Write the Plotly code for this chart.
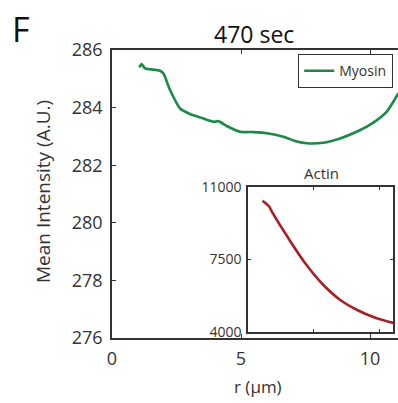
import plotly.graph_objects as go

# Main (Myosin) profile
myosin_r = [1.06, 1.15, 1.28, 1.47, 1.86, 1.99, 2.25, 2.64, 3.02, 3.41, 3.93, 4.12, 4.45,
            4.96, 5.48, 6.00, 6.64, 7.16, 7.55, 8.19, 8.84, 9.48, 10.13, 10.65, 11.10]
myosin_v = [285.40, 285.51, 285.36, 285.33, 285.28, 285.19, 284.61, 283.97, 283.78, 283.66,
            283.51, 283.53, 283.36, 283.16, 283.15, 283.11, 282.99, 282.82, 282.76, 282.78,
            282.93, 283.16, 283.48, 283.86, 284.50]

# Inset (Actin) profile
actin_r = [1.10, 1.62, 1.74, 3.15, 4.44, 5.72, 7.00, 8.28, 9.56, 11.10]
actin_v = [10340, 10049, 9890, 8441, 7234, 6269, 5545, 5062, 4710, 4420]

main_yticks = [276, 278, 280, 282, 284, 286]
main_xticks = [0, 5, 10]
inset_yticks = [4000, 7500, 11000]
inset_yticklabels = ["4000", "7500", "11000"]
inset_xticks = [5, 10]

GREEN = "#1a8a46"
RED = "#a81e24"
AX = "#333333"
FONT = "Open Sans"

W, H = 398, 403
L, R, T, B = 112, 0, 50, 65
PW, PH = W - L - R, H - T - B

def px(x):
    return (x - L) / PW

def py(y):
    return (H - B - y) / PH

fig = go.Figure()
fig.add_trace(go.Scatter(x=myosin_r, y=myosin_v, mode="lines", name="Myosin",
                         line=dict(color=GREEN, width=2.6, shape="spline", smoothing=0.6),
                         xaxis="x", yaxis="y"))
fig.add_trace(go.Scatter(x=actin_r, y=actin_v, mode="lines", name="Actin", showlegend=False,
                         line=dict(color=RED, width=2.6, shape="spline"), xaxis="x2", yaxis="y2"))

axis_common = dict(showgrid=False, zeroline=False, showline=True, linecolor=AX, linewidth=1.5,
                   ticks="inside", tickcolor=AX, tickwidth=1.2)

fig.update_layout(
    width=W, height=H,
    margin=dict(l=L, r=R, t=T, b=B),
    paper_bgcolor="white", plot_bgcolor="white",
    font=dict(family=FONT, color=AX),
    xaxis=dict(domain=[0, 1], range=[0, (W - L) / 25.8], tickvals=main_xticks,
               ticklen=4, mirror="allticks", tickfont=dict(size=18, color=AX),
               ticklabelstandoff=4, **axis_common),
    yaxis=dict(domain=[0, 1], range=[276, 286], tickvals=main_yticks, ticklen=4,
               mirror=False, tickfont=dict(size=18, color=AX), ticklabelstandoff=4,
               **axis_common),
    xaxis2=dict(domain=[px(248), px(393)], range=[0, 11], tickvals=inset_xticks,
                showticklabels=False, ticklen=3, mirror="allticks", anchor="y2",
                **axis_common),
    yaxis2=dict(domain=[py(332), py(187)], range=[4000, 11000], tickvals=inset_yticks,
                ticktext=inset_yticklabels,
                ticklen=3, mirror="allticks", anchor="x2", tickfont=dict(size=14, color=AX),
                ticklabelstandoff=2, **axis_common),
    legend=dict(x=px(393), y=py(54), xanchor="right", yanchor="top",
                bordercolor=AX, borderwidth=1.2, bgcolor="white",
                font=dict(size=14, color=AX, family=FONT), itemwidth=30,
                tracegroupgap=0),
    showlegend=True,
)

annots = [
    dict(text="F", x=px(21), y=py(29), font=dict(size=34, color="#111111")),
    dict(text="470 sec", x=px(254), y=py(34), font=dict(size=23, color="#111111")),
    dict(text="Mean Intensity (A.U.)", x=px(43), y=py(192), textangle=-90,
         font=dict(size=19, color=AX)),
    dict(text="r (μm)", x=px(258), y=py(386), font=dict(size=17, color=AX)),
    dict(text="Actin", x=px(321), y=py(173), font=dict(size=15, color=AX)),
]
for a in annots:
    fig.add_annotation(xref="paper", yref="paper", showarrow=False,
                       xanchor="center", yanchor="middle", **a)

fig.write_html("out.html", config={"displayModeBar": False},
               post_script="document.body.style.margin='0px';")
